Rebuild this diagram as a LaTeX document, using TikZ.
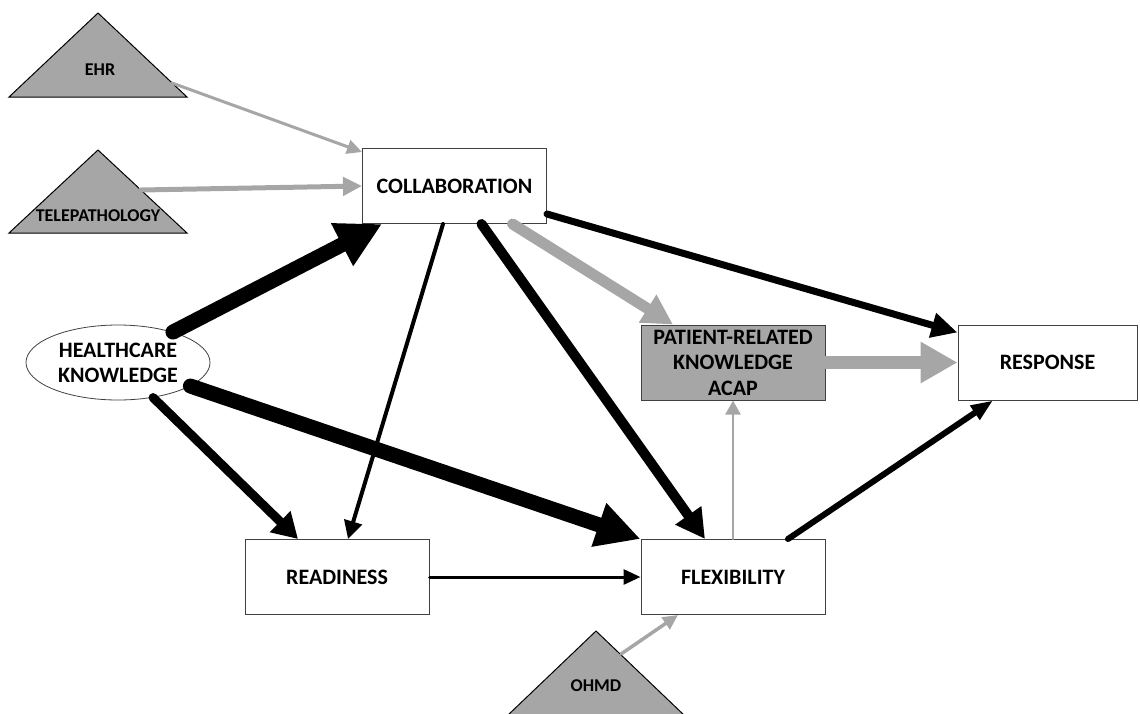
\documentclass[tikz,border=0pt]{standalone}
\usepackage{fontspec}
\setmainfont{Carlito}
\usetikzlibrary{arrows.meta,calc,shapes.geometric}
\definecolor{shade}{HTML}{A6A6A6}
\definecolor{edge}{HTML}{404040}
\begin{document}
\begin{tikzpicture}[x=1pt,y=-1pt,
  box/.style={draw=edge, line width=1pt, fill=white, minimum width=184pt, minimum height=75pt,
    inner sep=0pt, font=\bfseries\fontsize{22}{25.5}\selectfont, align=center},
  graybox/.style={box, fill=shade},
  hkell/.style={ellipse, draw=edge, line width=0.8pt, minimum width=184pt, minimum height=75pt,
    inner sep=0pt, font=\bfseries\fontsize{22}{25}\selectfont, align=center},
  tri/.style={draw=black, line width=1pt, fill=shade},
  trilabel/.style={font=\bfseries\fontsize{18}{20}\selectfont, inner sep=0pt},
  conn/.style n args={3}{line width=#1pt, line cap=round, -{Triangle[length=#2pt,width=#3pt]}},
  gconn/.style n args={3}{conn={#1}{#2}{#3}, draw=shade},
  bconn/.style n args={3}{conn={#1}{#2}{#3}, draw=black}]
\useasboundingbox (0,0) rectangle (1140,713);

% triangles
\draw[tri] (98,13) -- (9,97) -- (187,97) -- cycle;
\node[trilabel] (ehr) at (100,70) {EHR};
\coordinate (ehrside) at (172,83);
\draw[tri] (98,150) -- (9,233) -- (187,233) -- cycle;
\node[trilabel] (tele) at (98,216) {TELEPATHOLOGY};
\coordinate (teleside) at (141,190);
\draw[tri] (596,631) -- (507,716) -- (685,716) -- cycle;
\node[trilabel] (ohmd) at (596,686) {OHMD};
\coordinate (ohmdside) at (621,654);

% nodes
\node[box] (collab) at (454.5,186) {COLLABORATION};
\node[hkell] (hk) at (118,362.5) {HEALTHCARE\\KNOWLEDGE};
\node[graybox] (patient) at (733,362.5) {PATIENT-RELATED\\KNOWLEDGE\\ACAP};
\node[box, minimum width=179pt] (response) at (1047.5,362.5) {RESPONSE};
\node[box] (readiness) at (337,577) {READINESS};
\node[box] (flex) at (733,577) {FLEXIBILITY};

% connectors
\draw[gconn={3}{15}{14}] (ehrside) -- ($(collab.north west)+(0,4)$);
\draw[gconn={5}{19}{18}] (teleside) -- (collab.west);
\draw[bconn={15}{45}{45}] (hk.29) -- ([xshift=20pt]collab.south west);
\draw[bconn={15}{44}{43}] (hk.-18) -- (flex.north west);
\draw[bconn={9}{25}{28}] (hk.-45) -- ([xshift=-39pt]readiness.north);
\draw[bconn={4}{18}{18}] ([xshift=-11.5pt]collab.south) -- ([xshift=11pt]readiness.north);
\draw[bconn={10}{29}{30}] ([xshift=27pt]collab.south) -- ([xshift=-28pt]flex.north);
\draw[gconn={11}{30}{31}] ([xshift=58pt]collab.south) -- ([xshift=-60pt]patient.north);
\draw[bconn={7}{26}{24}] ($(collab.south east)+(0,-10)$) -- ($(response.north west)+(0,8)$);
\draw[gconn={13}{37}{39}] (patient.east) -- (response.west);
\draw[gconn={2.5}{14}{15}] (flex.north) -- (patient.south);
\draw[bconn={3}{17}{15}] (readiness.east) -- (flex.west);
\draw[bconn={6}{22}{16}] ([xshift=55pt]flex.north) -- ([xshift=-54.5pt]response.south);
\draw[gconn={3.5}{15}{14}] (ohmdside) -- ([xshift=-55pt]flex.south);
\end{tikzpicture}
\end{document}
